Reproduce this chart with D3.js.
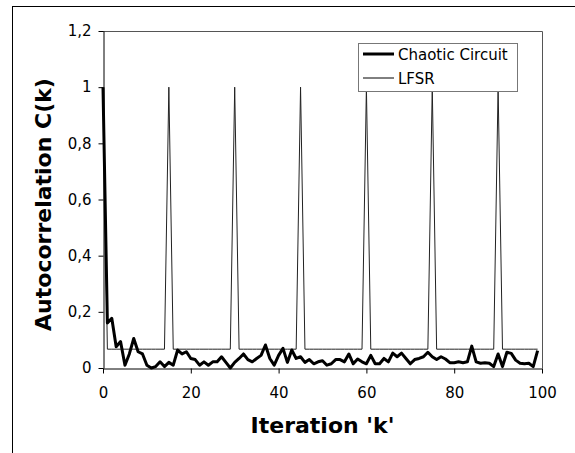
<!DOCTYPE html>
<html>
<head>
<meta charset="utf-8">
<script src="https://cdn.jsdelivr.net/npm/d3@7"></script>
<style>
  body { margin: 0; background: #fff; }
  svg { display: block; font-family: "DejaVu Sans", Verdana, sans-serif; }
</style>
</head>
<body>
<svg id="chart" width="575" height="453"></svg>
<script>
// small stand-in for d3-selection-multi's .attrs()
d3.selection.prototype.attrs = function (obj) {
  for (let k in obj) this.attr(k, obj[k])
  return this
}

// iteration index k = 0..99
let iterations = d3.range(0, 100)

let chaotic = [
  1.0, 0.16, 0.177, 0.076, 0.094, 0.01, 0.05, 0.105, 0.058, 0.05,
  0.01, 0.0, 0.005, 0.022, 0.005, 0.02, 0.01, 0.064, 0.05, 0.058,
  0.034, 0.03, 0.01, 0.022, 0.01, 0.022, 0.022, 0.04, 0.02, 0.0,
  0.02, 0.034, 0.05, 0.03, 0.022, 0.034, 0.045, 0.082, 0.034, 0.01,
  0.045, 0.07, 0.02, 0.064, 0.034, 0.04, 0.02, 0.03, 0.015, 0.022,
  0.026, 0.01, 0.015, 0.03, 0.03, 0.022, 0.05, 0.015, 0.032, 0.022,
  0.015, 0.045, 0.015, 0.015, 0.034, 0.022, 0.053, 0.04, 0.053, 0.034,
  0.015, 0.03, 0.034, 0.04, 0.056, 0.04, 0.03, 0.04, 0.032, 0.019,
  0.019, 0.022, 0.019, 0.022, 0.078, 0.022, 0.017, 0.019, 0.017, 0.005,
  0.05, 0.005, 0.056, 0.052, 0.028, 0.017, 0.015, 0.017, 0.005, 0.062
]

let lfsr = [
  1, 0.067, 0.067, 0.067, 0.067, 0.067, 0.067, 0.067, 0.067, 0.067,
  0.067, 0.067, 0.067, 0.067, 0.067, 1, 0.067, 0.067, 0.067, 0.067,
  0.067, 0.067, 0.067, 0.067, 0.067, 0.067, 0.067, 0.067, 0.067, 0.067,
  1, 0.067, 0.067, 0.067, 0.067, 0.067, 0.067, 0.067, 0.067, 0.067,
  0.067, 0.067, 0.067, 0.067, 0.067, 1, 0.067, 0.067, 0.067, 0.067,
  0.067, 0.067, 0.067, 0.067, 0.067, 0.067, 0.067, 0.067, 0.067, 0.067,
  1, 0.067, 0.067, 0.067, 0.067, 0.067, 0.067, 0.067, 0.067, 0.067,
  0.067, 0.067, 0.067, 0.067, 0.067, 1, 0.067, 0.067, 0.067, 0.067,
  0.067, 0.067, 0.067, 0.067, 0.067, 0.067, 0.067, 0.067, 0.067, 0.067,
  1, 0.067, 0.067, 0.067, 0.067, 0.067, 0.067, 0.067, 0.067, 0.067
]

let xTicks = [0, 20, 40, 60, 80, 100]
let yTicks = [0, 0.2, 0.4, 0.6, 0.8, 1, 1.2]
let seriesNames = ["Chaotic Circuit", "LFSR"]

let svg = d3.select("#chart")
let plot = { left: 103, right: 542, top: 31, bottom: 368 }

let x = d3.scaleLinear().domain([0, 100]).range([plot.left, plot.right])
let y = d3.scaleLinear().domain([0, 1.2]).range([plot.bottom, plot.top])

// outer chart frame (runs past the window on right and bottom)
svg.append("rect")
  .attrs({ x: 12.5, y: 6.5, width: 620, height: 520, fill: "none", stroke: "#000" })

// plot area border (top / right)
svg.append("path")
  .attr("d", `M${plot.left},${plot.top + 0.5}H${plot.right + 0.5}V${plot.bottom}`)
  .attrs({ fill: "none", stroke: "#555" })

let fmt = d => d3.format("~g")(d).replace(".", ",")

svg.append("g")
  .attr("transform", `translate(${plot.left + 0.5},0)`)
  .call(d3.axisLeft(y).tickValues(yTicks).tickFormat(fmt).tickSize(5).tickPadding(7).tickSizeOuter(0))

svg.append("g")
  .attr("transform", `translate(0,${plot.bottom + 0.5})`)
  .call(d3.axisBottom(x).tickValues(xTicks).tickSize(5).tickPadding(14).tickSizeOuter(0))

svg.selectAll(".tick text").attrs({ "font-size": 15, fill: "#000", "font-family": "DejaVu Sans, sans-serif" })
svg.selectAll(".domain, .tick line").attr("stroke", "#000")

let line = vals => d3.line().x((d, i) => x(iterations[i])).y(d => y(d))(vals)

svg.append("path")
  .attr("d", line(lfsr))
  .attrs({ fill: "none", stroke: "#222", "stroke-width": 1 })

svg.append("path")
  .attr("d", line(chaotic))
  .attrs({ fill: "none", stroke: "#000", "stroke-width": 3, "stroke-linejoin": "round" })

// axis titles
svg.append("text")
  .attrs({ x: (plot.left + plot.right) / 2, y: 433, "text-anchor": "middle", "font-size": 22, "font-weight": "bold" })
  .text("Iteration 'k'")

svg.append("text")
  .attrs({ transform: `translate(51,${(plot.top + plot.bottom) / 2 + 5}) rotate(-90)`, "text-anchor": "middle", "font-size": 22, "font-weight": "bold" })
  .text("Autocorrelation C(k)")

// legend
let legend = svg.append("g")
legend.append("rect")
  .attrs({ x: 358.5, y: 43.5, width: 159, height: 48, fill: "#fff", stroke: "#777" })

let legendRows = legend.selectAll("g.row")
  .data(seriesNames).enter()
  .append("g")
  .attr("transform", (d, i) => `translate(0,${54 + i * 24})`)

legendRows.append("line")
  .attrs({ x1: 363, x2: 394, y1: 0, y2: 0, stroke: "#000", "stroke-width": (d, i) => i == 0 ? 3 : 1 })

legendRows.append("text")
  .attrs({ x: 398, y: 5.5, "font-size": 15 })
  .text(d => d)
</script>
</body>
</html>
